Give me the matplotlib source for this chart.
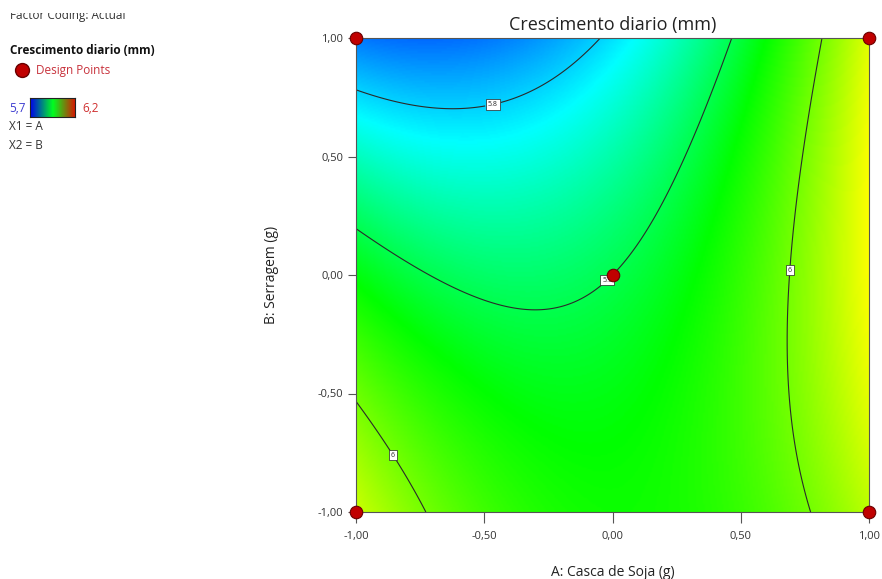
import matplotlib
matplotlib.use("Agg")
import matplotlib.pyplot as plt
import numpy as np
from matplotlib.colors import LinearSegmentedColormap
from matplotlib.lines import Line2D
from matplotlib.patches import Rectangle

plt.rcParams["font.family"] = ["Open Sans", "DejaVu Sans"]

# Quadratic model (coded units): b0, A, B, AB, A^2, B^2
coef_names = ["b0", "A", "B", "AB", "A2", "B2"]
coef_values = [5.90, 0.0737, -0.0675, 0.0783, 0.1032, -0.0255]

# Design points (coded)
design_a = [-1, 1, -1, 1, 0]
design_b = [-1, -1, 1, 1, 0]

contour_levels = [5.8, 5.9, 6.0]
label_pos = [(-0.47, 0.74), (-0.04, 0.0), (0.70, 0.02), (-0.87, -0.77)]
color_min, color_max = 5.7, 6.2
tick_vals = [-1.0, -0.5, 0.0, 0.5, 1.0]
tick_labels = ["-1,00", "-0,50", "0,00", "0,50", "1,00"]

b0, bA, bB, bAB, bAA, bBB = coef_values
a = np.linspace(-1, 1, 300)
b = np.linspace(-1, 1, 300)
A, B = np.meshgrid(a, b)
Z = b0 + bA * A + bB * B + bAB * A * B + bAA * A**2 + bBB * B**2

cmap = LinearSegmentedColormap.from_list(
    "de", [(0.0, "#0000ff"), (0.24, "#00ffff"), (0.47, "#00ff00"),
           (0.76, "#ffff00"), (1.0, "#ff0000")])

fig = plt.figure(figsize=(8.82, 5.79), dpi=100)
ax = fig.add_axes([356 / 882, 1 - 512 / 579, 513 / 882, 474 / 579])

ax.imshow(Z, extent=(-1, 1, -1, 1), origin="lower", cmap=cmap,
          vmin=color_min, vmax=color_max, aspect="auto", interpolation="bilinear")
cs = ax.contour(A, B, Z, levels=contour_levels, colors="#2a2a2a", linewidths=0.8)
labels = ax.clabel(cs, fmt={5.8: "5.8", 5.9: "5.9", 6.0: "6"}, fontsize=5,
                   manual=label_pos, inline=True, inline_spacing=3)
for t in labels:
    t.set_rotation(0)
    t.set_bbox(dict(boxstyle="square,pad=0.25", fc="white", ec="#222222", lw=0.5))

ax.plot(design_a, design_b, "o", ms=9, mfc="#c00000", mec="#6a0000", mew=0.8,
        clip_on=False, zorder=10)

ax.set_xlim(-1, 1)
ax.set_ylim(-1, 1)
ax.set_xticks(tick_vals)
ax.set_xticklabels(tick_labels)
ax.set_yticks(tick_vals)
ax.set_yticklabels(tick_labels)
ax.tick_params(axis="x", direction="out", length=8, width=0.8, color="#555555",
               labelsize=8, pad=6, labelcolor="#333333")
ax.tick_params(axis="y", direction="out", length=6, width=0.8, color="#555555",
               labelsize=8, pad=3, labelcolor="#333333")
for s in ax.spines.values():
    s.set_color("#555555")
    s.set_linewidth(0.8)

ax.set_title("Crescimento diario (mm)", fontsize=13, pad=6, color="#222222")
ax.set_xlabel("A: Casca de Soja (g)", fontsize=10, labelpad=16, color="#222222")
ax.set_ylabel("B: Serragem (g)", fontsize=10, color="#222222")
ax.yaxis.set_label_coords(-0.150, 0.5)

# Left-hand legend panel
def fy(py):
    return 1 - py / 579

fig.text(10 / 882, fy(19), "Factor Coding: Actual", fontsize=8.5, color="#333333",
         va="baseline")
fig.patches.append(Rectangle((0, fy(13)), 1, 1, transform=fig.transFigure,
                             fc="white", ec="none", zorder=5))
fig.text(10 / 882, fy(50), "Crescimento diario (mm)", fontsize=8.5, fontweight="bold",
         color="#111111", va="center")
fig.lines.append(Line2D([22 / 882], [fy(70)], marker="o", ms=10, mfc="#c00000",
                        mec="#6a0000", transform=fig.transFigure))
fig.text(36 / 882, fy(70), "Design Points", fontsize=8.5, color="#c8323c", va="center")
fig.text(9 / 882, fy(108), "5,7", fontsize=8.5, color="#3b3bd0", va="center")
fig.text(82 / 882, fy(108), "6,2", fontsize=8.5, color="#d03030", va="center")
cax = fig.add_axes([30 / 882, fy(117), 45 / 882, 19 / 579])
legend_cmap = LinearSegmentedColormap.from_list("lg", ["#0000ee", "#00ff20", "#dd1100"])
cax.imshow(np.linspace(0, 1, 100)[None, :], aspect="auto", cmap=legend_cmap)
cax.set_xticks([])
cax.set_yticks([])
for s in cax.spines.values():
    s.set_color("#222222")
    s.set_linewidth(0.8)
fig.text(9 / 882, fy(127), "X1 = A", fontsize=8.5, color="#333333", va="center")
fig.text(9 / 882, fy(146), "X2 = B", fontsize=8.5, color="#333333", va="center")

fig.savefig("out.png", dpi=100)
plt.close(fig)
